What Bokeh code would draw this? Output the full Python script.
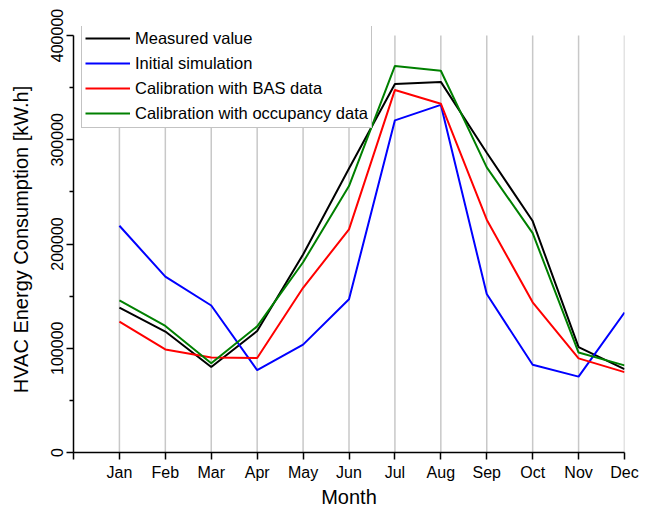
from bokeh.plotting import figure
from bokeh.models import Range1d, FixedTicker, Legend, LegendItem
from bokeh.embed import file_html
from bokeh.resources import INLINE

months = ["Jan", "Feb", "Mar", "Apr", "May", "Jun", "Jul", "Aug", "Sep", "Oct", "Nov", "Dec"]
month_pos = list(range(1, 13))
measured = [139000, 116000, 82000, 116500, 190000, 272500, 353500, 355500, 287500, 222000, 101000, 80000]
initial = [217500, 168700, 141000, 79000, 103500, 147000, 318600, 333500, 152000, 84200, 72800, 134300]
bas = [125600, 98900, 91200, 90600, 158000, 214000, 347800, 334600, 223300, 144100, 90300, 77100]
occupancy = [145900, 121400, 85700, 121000, 182500, 255600, 370800, 366200, 273500, 210400, 95900, 83600]
y_ticks = [0, 100000, 200000, 300000, 400000]
y_minor = [50000, 150000, 250000, 350000]

FONT = "Liberation Sans"

FRAME_H = 426   # frame from y=26 to y=452
TOP_PAD = 9     # px between frame top and the 400000 tick
y_top = y_ticks[-1] * FRAME_H / (FRAME_H - TOP_PAD)

p = figure(frame_width=551, frame_height=FRAME_H, output_backend="svg", toolbar_location=None,
           x_range=Range1d(0, 12), y_range=Range1d(0, y_top),
           min_border_left=73, min_border_right=16, min_border_top=26, min_border_bottom=50)
p.outline_line_color = None
p.background_fill_color = "white"
p.border_fill_color = "white"

# grid: vertical lines at each month, from 0 up to the top tick
p.xgrid.grid_line_color = None
p.ygrid.grid_line_color = None
p.segment(x0=month_pos, y0=[y_ticks[0]] * 12, x1=month_pos, y1=[y_ticks[-1]] * 12,
          line_color="#c8c8c8", line_width=1.5)

series = [
    ("Measured value", measured, "black"),
    ("Initial simulation", initial, "#0000ff"),
    ("Calibration with BAS data", bas, "#ff0000"),
    ("Calibration with occupancy data", occupancy, "#008000"),
]
items = []
for name, vals, col in series:
    r = p.line(month_pos, vals, line_color=col, line_width=2)
    items.append(LegendItem(label=name, renderers=[r]))

legend = Legend(items=items, location=(8, FRAME_H - 102))
legend.label_text_font = FONT
legend.label_text_font_size = "16.5px"
legend.label_text_color = "black"
legend.glyph_width = 45
legend.glyph_height = 22
legend.label_height = 22
legend.label_standoff = 5
legend.spacing = 3
legend.padding = 3
legend.margin = 0
legend.border_line_color = "#888888"
legend.border_line_width = 1
legend.background_fill_alpha = 1
p.add_layout(legend, "center")

# x axis
xa = p.xaxis[0]
xa.ticker = FixedTicker(ticks=[0] + month_pos)
overrides = {0: ""}
overrides.update({m: lab for m, lab in zip(month_pos, months)})
xa.major_label_overrides = overrides
xa.minor_tick_line_color = None
xa.axis_label = "Month"

# y axis
ya = p.yaxis[0]
ya.ticker = FixedTicker(ticks=y_ticks, minor_ticks=y_minor)
ya.bounds = (y_ticks[0], y_ticks[-1])
ya.formatter.use_scientific = False
ya.major_label_orientation = "vertical"
ya.axis_label = "HVAC Energy Consumption [kW.h]"

for ax in (xa, ya):
    ax.axis_line_color = "black"
    ax.axis_line_width = 1.5
    ax.major_tick_line_color = "black"
    ax.major_tick_line_width = 1.5
    ax.major_tick_out = 7
    ax.major_tick_in = 0
    ax.minor_tick_out = 4
    ax.minor_tick_in = 0
    ax.minor_tick_line_width = 1.5
    ax.major_label_text_font = FONT
    ax.major_label_text_font_size = "16px"
    ax.major_label_text_color = "black"
    ax.axis_label_text_font = FONT
    ax.axis_label_text_font_size = "20px"
    ax.axis_label_text_font_style = "normal"
    ax.axis_label_text_color = "black"
xa.major_label_standoff = 4
ya.major_label_standoff = 4
xa.axis_label_standoff = 2
ya.axis_label_standoff = 16
ya.minor_tick_line_color = "black"

open("out.html", "w").write(file_html(p, INLINE))
